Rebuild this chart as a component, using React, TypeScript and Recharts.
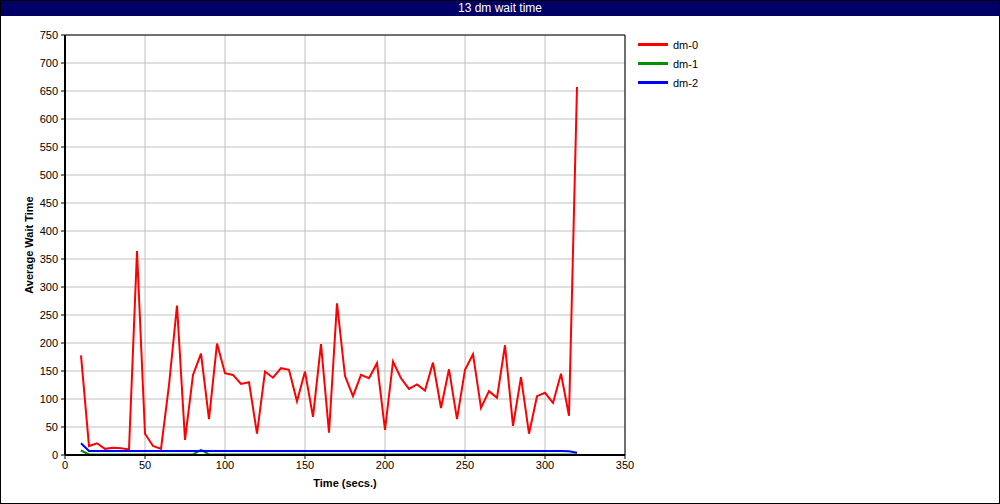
import { CartesianGrid, Label, Line, LineChart, ReferenceLine, XAxis, YAxis } from 'recharts';

const times = [
  10, 15, 20, 25, 30, 35, 40, 45, 50, 55, 60, 65, 70, 75, 80, 85, 90, 95, 100, 105, 110,
  115, 120, 125, 130, 135, 140, 145, 150, 155, 160, 165, 170, 175, 180, 185, 190, 195, 200,
  205, 210, 215, 220, 225, 230, 235, 240, 245, 250, 255, 260, 265, 270, 275, 280, 285, 290,
  295, 300, 305, 310, 315, 320,
];

const dm0 = [
  178, 16, 21, 11, 13, 12, 10, 364, 38, 16, 11, 125, 267, 27, 143, 181, 64, 199, 146, 143, 127,
  130, 38, 149, 138, 155, 152, 96, 149, 68, 198, 40, 271, 141, 105, 143, 137, 164, 45,
  167, 137, 118, 126, 115, 165, 84, 153, 64, 152, 180, 84, 114, 102, 196, 52, 139, 38,
  105, 111, 93, 145, 70, 657,
];

const dm1 = [
  8, 1, 1, 1, 1, 1, 1, 1, 1, 1, 1, 1, 1, 1, 1, 9, 1, 1, 1, 1, 1,
  1, 1, 1, 1, 1, 1, 1, 1, 1, 1, 1, 1, 1, 1, 1, 1, 1, 1,
  1, 1, 1, 1, 1, 1, 1, 1, 1, 1, 1, 1, 1, 1, 1, 1, 1, 1,
  1, 1, 1, 1, 1, 1,
];

const dm2 = [
  21, 7, 7, 7, 7, 7, 7, 7, 7, 7, 7, 7, 7, 7, 7, 7, 7, 7, 7, 7, 7,
  7, 7, 7, 7, 7, 7, 7, 7, 7, 7, 7, 7, 7, 7, 7, 7, 7, 7,
  7, 7, 7, 7, 7, 7, 7, 7, 7, 7, 7, 7, 7, 7, 7, 7, 7, 7,
  7, 7, 7, 7, 6.5, 4,
];

const xTicks = [0, 50, 100, 150, 200, 250, 300, 350];
const yTicks = [0, 50, 100, 150, 200, 250, 300, 350, 400, 450, 500, 550, 600, 650, 700, 750];

const series = [
  { key: 'dm0', label: 'dm-0', color: '#ff0000' },
  { key: 'dm1', label: 'dm-1', color: '#009000' },
  { key: 'dm2', label: 'dm-2', color: '#0000ff' },
];

const data = times.map((t, i) => ({ t, dm0: dm0[i], dm1: dm1[i], dm2: dm2[i] }));

const font = '"Liberation Sans", Arial, sans-serif';
const tickStyle = { fontSize: 11, fill: '#000', fontFamily: font };

function LegendBox() {
  return (
    <div style={{ position: 'absolute', left: 638, top: 35, fontFamily: font, fontSize: 11, color: '#000' }}>
      {series.map((s) => (
        <div key={s.key} style={{ display: 'flex', alignItems: 'center', height: 19 }}>
          <div style={{ width: 30, height: 3, background: s.color, marginRight: 5 }} />
          <span>{s.label}</span>
        </div>
      ))}
    </div>
  );
}

export default function App() {
  return (
    <div style={{ position: 'absolute', left: 0, top: 0, width: 1000, height: 504, background: '#fff' }}>
      <LineChart
        width={1000}
        height={504}
        data={data}
        margin={{ top: 35, right: 375, bottom: 0, left: 0 }}
        style={{ position: 'absolute', left: 0, top: 0 }}
      >
        <CartesianGrid stroke="#c0c0c0" strokeWidth={1} />
        <XAxis
          dataKey="t"
          type="number"
          domain={[0, 350]}
          ticks={xTicks}
          height={49}
          tick={tickStyle}
          tickSize={4}
          tickMargin={2}
          axisLine={{ stroke: '#000', strokeWidth: 2 }}
          tickLine={{ stroke: '#000' }}
        >
          <Label
            content={({ viewBox }: any) => (
              <text
                x={viewBox.x + viewBox.width / 2}
                y={viewBox.y + 32}
                textAnchor="middle"
                fontFamily={font}
                fontSize={11}
                fontWeight="bold"
                fill="#000"
              >
                Time (secs.)
              </text>
            )}
          />
        </XAxis>
        <YAxis
          type="number"
          domain={[0, 750]}
          ticks={yTicks}
          width={65}
          tick={tickStyle}
          tickSize={4}
          tickMargin={3}
          interval={0}
          axisLine={{ stroke: '#000', strokeWidth: 2 }}
          tickLine={{ stroke: '#000' }}
        >
          <Label
            content={({ viewBox }: any) => {
              const cx = viewBox.x + 33;
              const cy = viewBox.y + viewBox.height / 2;
              return (
                <text
                  x={cx}
                  y={cy}
                  transform={`rotate(-90 ${cx} ${cy})`}
                  textAnchor="middle"
                  fontFamily={font}
                  fontSize={11}
                  fontWeight="bold"
                  fill="#000"
                >
                  Average Wait Time
                </text>
              );
            }}
          />
        </YAxis>
        <ReferenceLine y={750} stroke="#000" strokeWidth={1} />
        <ReferenceLine x={350} stroke="#000" strokeWidth={1} />
        {series.map((s) => (
          <Line
            key={s.key}
            type="linear"
            dataKey={s.key}
            name={s.label}
            stroke={s.color}
            strokeWidth={2}
            dot={false}
            activeDot={false}
            isAnimationActive={false}
          />
        ))}
      </LineChart>
      <LegendBox />
      <div
        style={{
          position: 'absolute',
          left: 0,
          top: 0,
          width: 1000,
          height: 16,
          background: '#000066',
          color: '#fff',
          fontFamily: font,
          fontSize: 12,
          lineHeight: '16px',
          textAlign: 'center',
        }}
      >
        13 dm wait time
      </div>
      <div
        style={{
          position: 'absolute',
          left: 0,
          top: 0,
          width: 1000,
          height: 504,
          boxSizing: 'border-box',
          border: '1px solid #000',
          pointerEvents: 'none',
        }}
      />
    </div>
  );
}
